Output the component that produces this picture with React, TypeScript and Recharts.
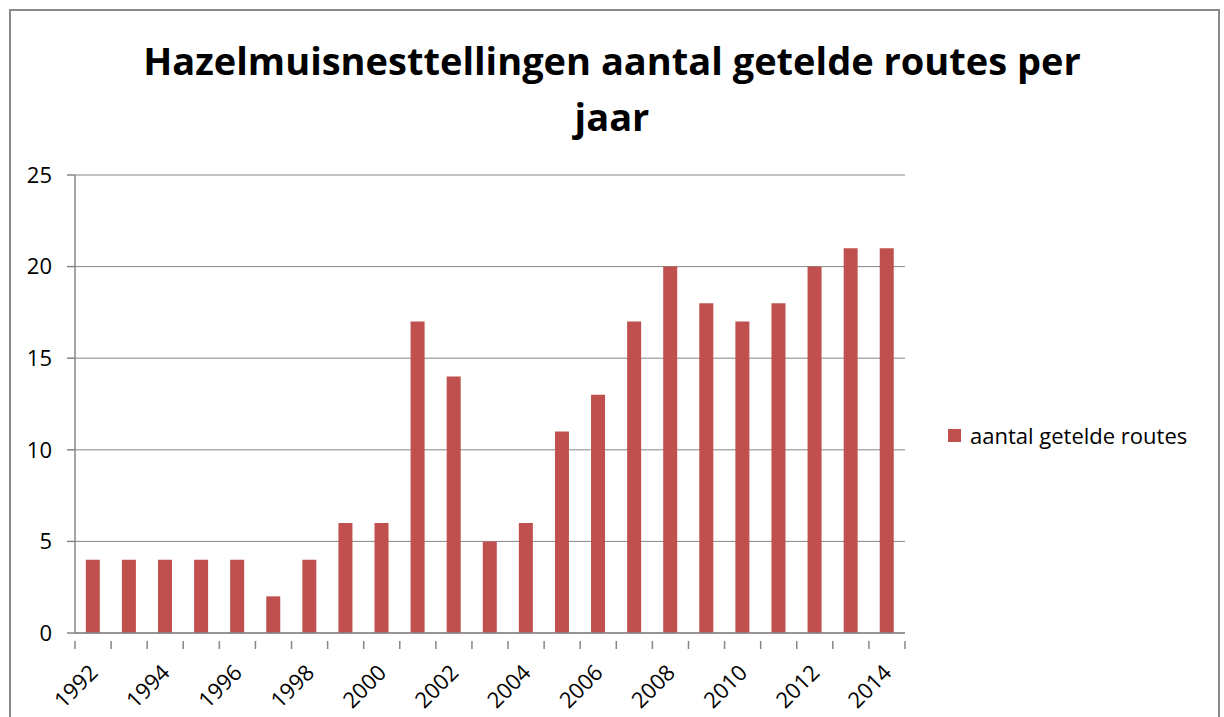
import { BarChart, Bar, XAxis, YAxis, CartesianGrid } from "recharts";

const years = [
  "1992", "1993", "1994", "1995", "1996", "1997", "1998", "1999", "2000", "2001", "2002", "2003",
  "2004", "2005", "2006", "2007", "2008", "2009", "2010", "2011", "2012", "2013", "2014",
];
const routes = [4, 4, 4, 4, 4, 2, 4, 6, 6, 17, 14, 5, 6, 11, 13, 17, 20, 18, 17, 18, 20, 21, 21];
const yTicks = [0, 5, 10, 15, 20, 25];

const data = years.map((year, i) => ({ year, routes: routes[i] }));

const FONT = "'Open Sans', 'Noto Sans', sans-serif";
const PLOT_LEFT = 75;
const PLOT_RIGHT = 905;
const BAND = (PLOT_RIGHT - PLOT_LEFT) / years.length;

function YearTick(props: any) {
  const { x, y, payload, index } = props;
  const left = x - BAND / 2;
  const isLast = index === years.length - 1;
  const ax = x + 6;
  const ay = y + 33;
  return (
    <g>
      <line x1={left} x2={left} y1={y} y2={y + 8} stroke="#868686" strokeWidth={1.5} />
      {isLast && <line x1={left + BAND} x2={left + BAND} y1={y} y2={y + 8} stroke="#868686" strokeWidth={1.5} />}
      {index % 2 === 0 && (
        <text
          x={ax}
          y={ay}
          textAnchor="end"
          transform={`rotate(-45 ${ax} ${ay})`}
          fontFamily={FONT}
          fontSize={22}
          fill="#000"
        >
          {payload.value}
        </text>
      )}
    </g>
  );
}

export default function App() {
  return (
    <div style={{ position: "absolute", left: 0, top: 0, width: 1224, height: 717, background: "#fff", overflow: "hidden" }}>
      <div
        style={{
          position: "absolute",
          left: 9,
          top: 9,
          width: 1211,
          height: 760,
          border: "2px solid #8a8a8a",
          boxSizing: "border-box",
        }}
      />
      <div
        style={{
          position: "absolute",
          left: 0,
          top: 32,
          width: 1224,
          textAlign: "center",
          fontFamily: FONT,
          fontWeight: 700,
          fontSize: 38,
          lineHeight: "56px",
          color: "#000",
        }}
      >
        Hazelmuisnesttellingen aantal getelde routes per
        <br />
        jaar
      </div>
      <BarChart
        width={1224}
        height={717}
        data={data}
        margin={{ top: 175, right: 1224 - PLOT_RIGHT, bottom: 0, left: 0 }}
        barCategoryGap="30%"
        style={{ position: "absolute", left: 0, top: 0 }}
      >
        <CartesianGrid vertical={false} stroke="#868686" strokeWidth={1} />
        <XAxis
          dataKey="year"
          interval={0}
          height={84}
          stroke="#868686"
          strokeWidth={1.5}
          tickLine={false}
          tick={<YearTick />}
        />
        <YAxis
          width={PLOT_LEFT}
          domain={[0, 25]}
          ticks={yTicks}
          stroke="#868686"
          strokeWidth={1.5}
          tickSize={8}
          tickMargin={15}
          tick={{ fill: "#000", fontSize: 22, fontFamily: FONT }}
        />
        <Bar dataKey="routes" fill="#C0504D" isAnimationActive={false} />
      </BarChart>
      <div
        style={{
          position: "absolute",
          left: 948,
          top: 420,
          display: "flex",
          alignItems: "center",
          fontFamily: FONT,
          fontSize: 22,
          color: "#000",
          whiteSpace: "nowrap",
        }}
      >
        <span style={{ display: "inline-block", width: 13, height: 13, background: "#C0504D", marginRight: 9 }} />
        aantal getelde routes
      </div>
    </div>
  );
}
